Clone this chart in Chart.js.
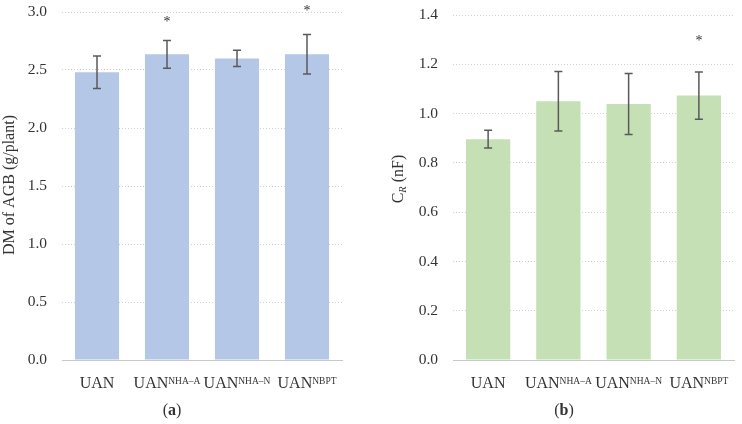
<!DOCTYPE html>
<html lang="en">
<head>
  <meta charset="UTF-8">
  <title>DM of AGB and CR</title>
  <script src="https://cdn.jsdelivr.net/npm/chart.js"></script>
  <style>
    body { margin: 0; background: #fff; }
    .row { display: flex; width: 742px; height: 424px; }
    canvas { display: block; }
  </style>
</head>
<body>
  <div class="row">
    <canvas id="chartA" width="371" height="424"></canvas>
    <canvas id="chartB" width="371" height="424"></canvas>
  </div>

  <script>
    // data
    const treatments = ['UAN', 'UAN', 'UAN', 'UAN'];
    const treatmentSup = ['', 'NHA\u2013A', 'NHA\u2013N', 'NBPT'];

    const dmValues = [2.48, 2.635, 2.60, 2.635];
    const dmErrors = [0.14, 0.12, 0.07, 0.17];
    const dmStars = [null, 2.94, null, 3.03];   // where the * sits (axis units)

    const crValues = [0.896, 1.050, 1.039, 1.073];
    const crErrors = [0.036, 0.121, 0.124, 0.096];
    const crStars = [null, null, null, 1.306];

    const SERIF = "'Liberation Serif', 'DejaVu Serif', serif";
    const TEXT = '#333333';

    // error bars, stars, sub/superscript labels, titles
    const extrasPlugin = {
      id: 'extras',
      afterDatasetsDraw(chart) {
        const cfg = chart.options.plugins.extras;
        const ctx = chart.ctx;
        const x = chart.scales.x;
        const y = chart.scales.y;
        const vals = chart.data.datasets[0].data;

        ctx.save();
        ctx.strokeStyle = '#595959';
        ctx.lineWidth = 1.5;
        vals.forEach((v, i) => {
          const px = x.getPixelForValue(i);
          const top = y.getPixelForValue(v + cfg.errors[i]);
          const bot = y.getPixelForValue(v - cfg.errors[i]);
          ctx.beginPath();
          ctx.moveTo(px, top); ctx.lineTo(px, bot);
          ctx.moveTo(px - 4, top); ctx.lineTo(px + 4, top);
          ctx.moveTo(px - 4, bot); ctx.lineTo(px + 4, bot);
          ctx.stroke();
        });

        ctx.fillStyle = TEXT;
        ctx.font = '14px ' + SERIF;
        ctx.textAlign = 'center';
        ctx.textBaseline = 'middle';
        cfg.stars.forEach((s, i) => {
          if (s == null) return;
          ctx.fillText('*', x.getPixelForValue(i), y.getPixelForValue(s) + 3);
        });
        ctx.restore();
      },
      afterDraw(chart) {
        const cfg = chart.options.plugins.extras;
        const ctx = chart.ctx;
        const x = chart.scales.x;

        ctx.save();
        ctx.fillStyle = TEXT;
        ctx.textBaseline = 'alphabetic';
        ctx.textAlign = 'left';

        // category labels with superscripts
        chart.data.labels.forEach((lab, i) => {
          const sup = treatmentSup[i];
          ctx.font = '16px ' + SERIF;
          const w1 = ctx.measureText(lab).width;
          ctx.font = '9.5px ' + SERIF;
          const w2 = sup ? ctx.measureText(sup).width : 0;
          const left = x.getPixelForValue(i) - (w1 + w2) / 2;
          ctx.font = '16px ' + SERIF;
          ctx.fillText(lab, left, 388);
          if (sup) {
            ctx.font = '9.5px ' + SERIF;
            ctx.fillText(sup, left + w1, 383.5);
          }
        });

        // y title
        ctx.save();
        ctx.translate(cfg.titleX, cfg.titleY);
        ctx.rotate(-Math.PI / 2);
        ctx.textBaseline = 'middle';
        if (cfg.titleSub) {
          ctx.font = '16px ' + SERIF;
          const wa = ctx.measureText(cfg.title).width;
          ctx.font = 'italic 10.5px ' + SERIF;
          const wb = ctx.measureText(cfg.titleSub).width;
          ctx.font = '16px ' + SERIF;
          const wc = ctx.measureText(cfg.titleRest).width;
          let cx = -(wa + wb + wc) / 2;
          ctx.fillText(cfg.title, cx, 0); cx += wa;
          ctx.font = 'italic 10.5px ' + SERIF;
          ctx.fillText(cfg.titleSub, cx, 4); cx += wb;
          ctx.font = '16px ' + SERIF;
          ctx.fillText(cfg.titleRest, cx, 0);
        } else {
          ctx.font = '16px ' + SERIF;
          ctx.textAlign = 'center';
          ctx.fillText(cfg.title, 0, 0);
        }
        ctx.restore();

        // panel caption
        ctx.font = '16px ' + SERIF;
        const wo = ctx.measureText('(').width;
        ctx.font = 'bold 16px ' + SERIF;
        const wl = ctx.measureText(cfg.caption).width;
        let cx = cfg.captionX - (2 * wo + wl) / 2;
        ctx.font = '16px ' + SERIF;
        ctx.fillText('(', cx, 415); cx += wo;
        ctx.font = 'bold 16px ' + SERIF;
        ctx.fillText(cfg.caption, cx, 415); cx += wl;
        ctx.font = '16px ' + SERIF;
        ctx.fillText(')', cx, 415);
        ctx.restore();
      }
    };

    function makeChart(id, values, color, yMax, yStep, axisWidth, pad, extras) {
      const ctx = document.getElementById(id).getContext('2d');
      return new Chart(ctx, {
        type: 'bar',
        data: {
          labels: treatments,
          datasets: [{
            data: values,
            backgroundColor: color,
            borderWidth: 0,
            categoryPercentage: 1,
            barPercentage: 0.63
          }]
        },
        options: {
          responsive: false,
          animation: false,
          layout: { padding: pad, autoPadding: false },
          plugins: {
            legend: { display: false },
            tooltip: { enabled: false },
            extras: extras
          },
          scales: {
            x: {
              grid: { display: false, drawTicks: false },
              border: { display: true, color: '#c8c8c8', width: 1 },
              ticks: { display: false },
              afterFit: s => { s.height = 64; }
            },
            y: {
              min: 0,
              max: yMax,
              ticks: {
                stepSize: yStep,
                padding: 15,
                color: TEXT,
                font: { family: SERIF, size: 15.5 },
                callback: v => Number(v).toFixed(1)
              },
              grid: {
                drawTicks: false,
                color: c => c.tick && c.tick.value === 0 ? 'rgba(0,0,0,0)' : '#cfcfcf'
              },
              border: { display: false, dash: [1, 2] },
              afterFit: s => {
                s.width = axisWidth;
                s.paddingTop = 0;
                s.paddingBottom = 0;
              }
            }
          }
        },
        plugins: [extrasPlugin]
      });
    }

    document.addEventListener('DOMContentLoaded', () => {
      makeChart('chartA', dmValues, '#B4C7E7', 3.0, 0.5, 62,
        { top: 12, right: 29, bottom: 0, left: 0 },
        { errors: dmErrors, stars: dmStars, title: 'DM of AGB (g/plant)',
          titleX: 10, titleY: 185, caption: 'a', captionX: 172 });
      makeChart('chartB', crValues, '#C5E0B4', 1.4, 0.2, 82,
        { top: 15, right: 8, bottom: 0, left: 0 },
        { errors: crErrors, stars: crStars, title: 'C', titleSub: 'R', titleRest: ' (nF)',
          titleX: 28, titleY: 179, caption: 'b', captionX: 193 });
    });
  </script>
</body>
</html>
